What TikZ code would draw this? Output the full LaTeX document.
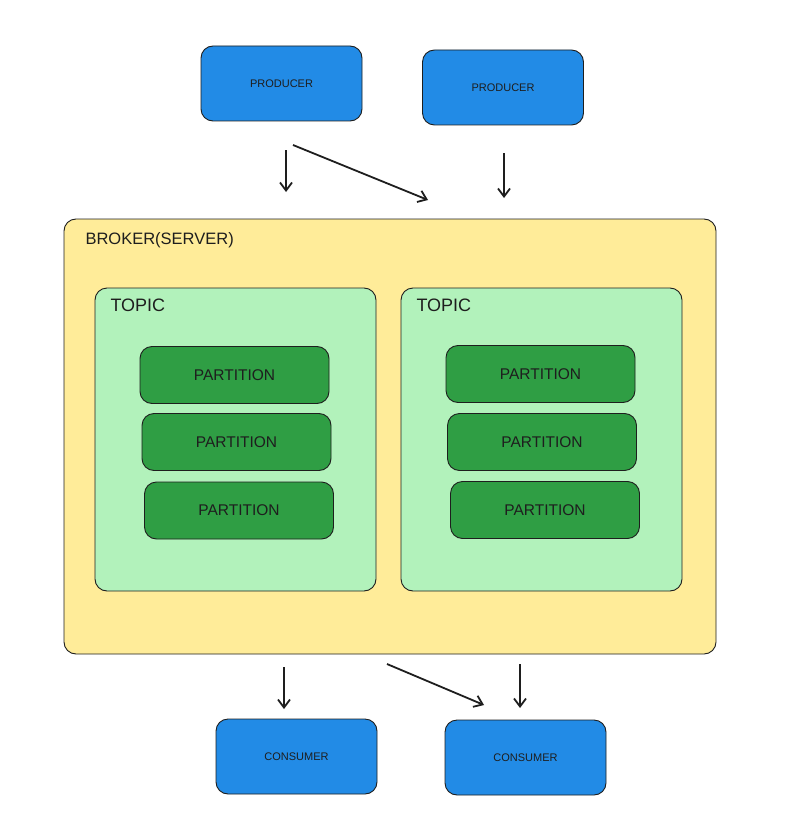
\documentclass[tikz,border=0pt]{standalone}
\usepackage{fontspec}
\setmainfont{Liberation Sans}
\usetikzlibrary{arrows.meta}
\definecolor{ink}{HTML}{1E1E1E}
\definecolor{blue}{HTML}{228BE6}
\definecolor{yell}{HTML}{FFEC99}
\definecolor{lgreen}{HTML}{B2F2BB}
\definecolor{dgreen}{HTML}{2F9E44}
\tikzset{
  box/.style={draw=ink, line width=0.9pt, rounded corners=12pt, anchor=center, inner sep=0pt, text=ink},
  prodbox/.style={box, fill=blue, minimum width=161pt, minimum height=75pt, font=\fontsize{11}{13}\selectfont},
  partbox/.style={box, fill=dgreen, minimum width=189pt, minimum height=57pt, font=\fontsize{15.5}{17}\selectfont},
  flow/.style={draw=ink, line width=1.8pt, -{Straight Barb[length=8pt,width=12pt]}},
  lbl/.style={anchor=west, font=\fontsize{16.5}{19}\selectfont, text=ink},
  toplbl/.style={anchor=west, font=\fontsize{18}{20}\selectfont, text=ink},
}
\begin{document}
\begin{tikzpicture}[x=1pt,y=-1pt]
\useasboundingbox (0,0) rectangle (800,824);
% producers
\node[prodbox] (p1) at (281.5,83.5) {PRODUCER};
\node[prodbox] (p2) at (503,87.5) {PRODUCER};
% broker
\draw[draw=ink, line width=0.9pt, fill=yell, rounded corners=12pt] (64,219) rectangle (716,654);
\node[lbl] (blbl) at (82,240) {BROKER(SERVER)};
% topics
\draw[draw=ink, line width=0.9pt, fill=lgreen, rounded corners=12pt] (95,288) rectangle (376,591);
\draw[draw=ink, line width=0.9pt, fill=lgreen, rounded corners=12pt] (401,288) rectangle (682,591);
\node[toplbl] (t1) at (107,305) {TOPIC};
\node[toplbl] (t2) at (413,305) {TOPIC};
% partitions
\node[partbox] (a1) at (234.5,375) {PARTITION};
\node[partbox] (a2) at (236.5,442) {PARTITION};
\node[partbox] (a3) at (239,510.5) {PARTITION};
\node[partbox] (b1) at (540.5,374) {PARTITION};
\node[partbox] (b2) at (542,442) {PARTITION};
\node[partbox] (b3) at (545,510) {PARTITION};
% consumers
\node[prodbox] (c1) at (296.5,756.5) {CONSUMER};
\node[prodbox] (c2) at (525.5,757.5) {CONSUMER};
% arrow coordinates
\coordinate (u1s) at (286,150); \coordinate (u1e) at (286,192);
\coordinate (u2s) at (293,145); \coordinate (u2e) at (428,200);
\coordinate (u3s) at (504,153); \coordinate (u3e) at (504,198);
\coordinate (d1s) at (284,667); \coordinate (d1e) at (284,709);
\coordinate (d2s) at (387,664); \coordinate (d2e) at (484,705);
\coordinate (d3s) at (520,664); \coordinate (d3e) at (520,708);
\draw[flow] (u1s) -- (u1e);
\draw[flow] (u2s) -- (u2e);
\draw[flow] (u3s) -- (u3e);
\draw[flow] (d1s) -- (d1e);
\draw[flow] (d2s) -- (d2e);
\draw[flow] (d3s) -- (d3e);
\end{tikzpicture}
\end{document}
